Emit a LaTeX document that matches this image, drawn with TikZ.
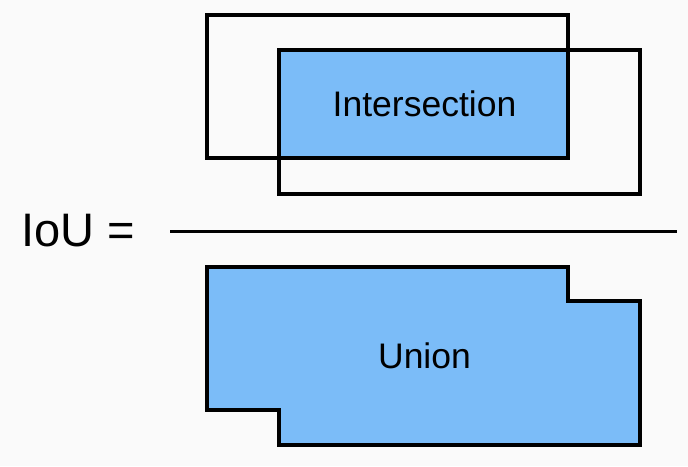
\documentclass[tikz,border=0pt]{standalone}
\usepackage{fontspec}
\setmainfont{Liberation Sans}
\definecolor{bg}{HTML}{FAFAFA}
\definecolor{boxblue}{HTML}{7BBCF8}
\tikzset{
  outl/.style={draw=black, line width=3.5pt, line join=miter},
  filled/.style={outl, fill=boxblue},
  lbl/.style={inner sep=0pt, anchor=base, font=\fontsize{35.5}{41}\selectfont},
}
\begin{document}
\begin{tikzpicture}[x=1pt,y=-1pt]
  \fill[bg] (0,0) rectangle (688,466);
  \useasboundingbox (0,0) rectangle (688,466);
  % intersection fill
  \fill[boxblue] (279,50) rectangle (568,158);
  \draw[outl] (207,15) rectangle (568,158);
  \draw[outl] (279,50) rectangle (640,194);
  \node[lbl] (inter) at (424.5,116) {Intersection};
  % fraction
  \coordinate (fl) at (170,231);
  \coordinate (fr) at (677,231);
  \draw[line width=3pt] (fl) -- (fr);
  \node[inner sep=0pt, anchor=base west, font=\fontsize{47}{53}\selectfont] (iou) at (21.5,246) {IoU =};
  % union
  \draw[filled] (207,267) -- (568,267) -- (568,301) -- (640,301) -- (640,445) -- (279,445) -- (279,410) -- (207,410) -- cycle;
  \node[lbl] (union) at (424.5,368) {Union};
\end{tikzpicture}
\end{document}
